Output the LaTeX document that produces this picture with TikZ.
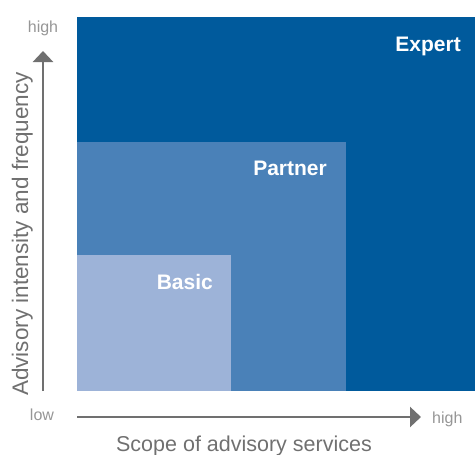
\documentclass[tikz,border=0pt]{standalone}
\usepackage{fontspec}
\setmainfont{Liberation Sans}
\usepackage{xcolor}
\usepackage{tikz}
\usetikzlibrary{
  positioning,
  calc,
  arrows.meta
}
\definecolor{expertblue}{RGB}{0,90,156}
\definecolor{partnerblue}{RGB}{74,129,184}
\definecolor{basicblue}{RGB}{157,179,216}
\definecolor{axisgray}{RGB}{112,112,112}
\definecolor{tickgray}{RGB}{150,150,150}

\begin{document}
\begin{tikzpicture}[x=1pt,y=-1pt,
  level/.style={text=white,inner sep=0pt,anchor=base east,
    font=\bfseries\fontsize{21}{21}\selectfont},
  tick/.style={text=tickgray,inner sep=0pt,anchor=base,
    font=\fontsize{16}{16}\selectfont},
  title/.style={text=axisgray,inner sep=0pt,anchor=base,
    font=\fontsize{21.5}{21.5}\selectfont},
  axis/.style={draw=axisgray,line width=2.5pt,
    -{Triangle[length=11pt,width=20pt]}}]
  \useasboundingbox (0,0) rectangle (475,455);

  % 三つの領域(外側から塗る)
  \fill[expertblue] (77,17) rectangle (475,391);
  \fill[partnerblue] (77,142) rectangle (346,391);
  \fill[basicblue] (77,255) rectangle (231,391);

  % 各領域のラベル
  \node[level] (expert) at (461,51) {Expert};
  \node[level] (partner) at (327,175) {Partner};
  \node[level] (basic) at (213,289) {Basic};

  % 軸
  \coordinate (origin) at (77,417);
  \coordinate (ytip) at (43,51);
  \coordinate (ybase) at (43,391);
  \coordinate (xtip) at (421,417);
  \draw[axis] (ybase) -- (ytip);
  \draw[axis] (origin) -- (xtip);

  % 軸のラベル
  \node[tick] (yhigh) at (43,32) {high};
  \node[tick] (low) at (42,420) {low};
  \node[tick,anchor=base west] (xhigh) at (432,423) {high};
  \node[title] (xtitle) at (244,451) {Scope of advisory services};
  \node[title,rotate=90,font=\fontsize{22.5}{22.5}\selectfont] (ytitle) at (28,234) {Advisory intensity and frequency};
\end{tikzpicture}
\end{document}
